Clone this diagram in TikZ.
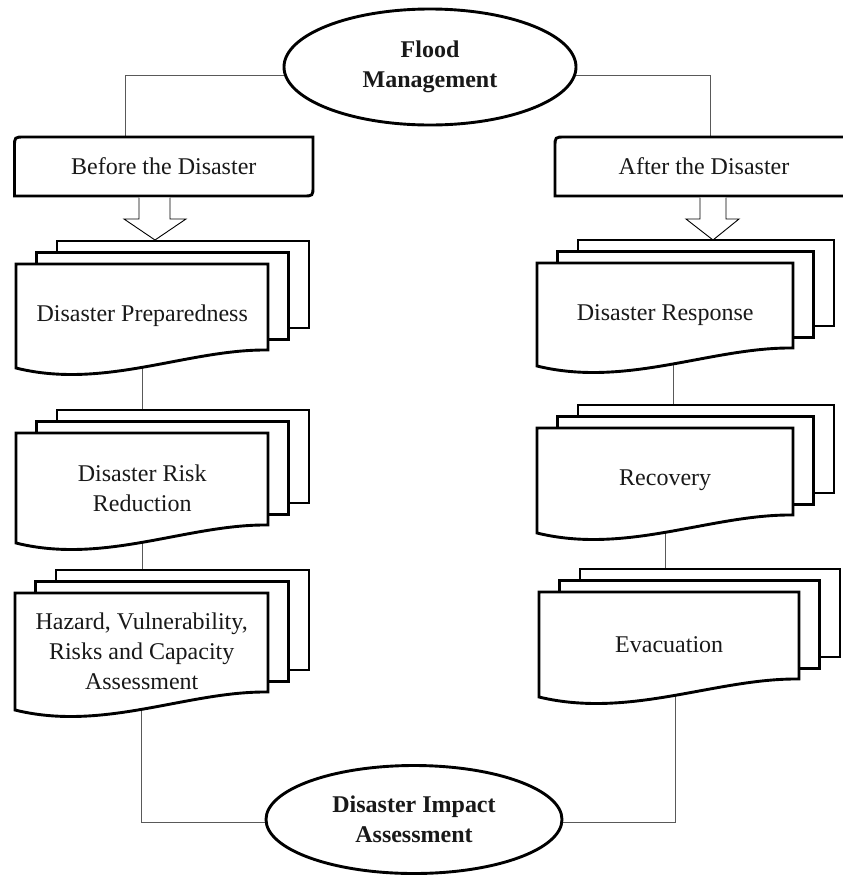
\documentclass[tikz,border=0pt]{standalone}
\usepackage{fontspec}
\setmainfont{Liberation Serif}
\usetikzlibrary{shapes.geometric,backgrounds}
\tikzset{
 sheet/.style={draw=black, fill=white, line width=2.9pt, line join=miter},
 conn/.style={draw=black!65, line width=1pt},
 lbl/.style={font=\fontsize{24}{30}\selectfont, align=center, inner sep=0pt, text=black!90},
 oval/.style={ellipse, draw=black, fill=white, line width=2.9pt, font=\bfseries\fontsize{24}{30}\selectfont, align=center, inner sep=0pt, text=black!90},
 hollow/.style={draw=black, fill=white, line width=0.9pt, line join=miter},
}
\newcommand\docstack[6]{%
 \draw[sheet] ({#2+41},{#3-23}) rectangle ({#2+41+#4},{#3-23+#5-17});
 \draw[sheet] ({#2+20.5},{#3-11.5}) rectangle ({#2+20.5+#4},{#3-11.5+#5-17});
 \draw[sheet] (#2,#3) -- (#2,{#3+#5}) .. controls ({#2+0.35*#4},{#3+#5+22}) and ({#2+0.68*#4},{#3+#5-19}) .. ({#2+#4},{#3+#5-18}) -- ({#2+#4},#3) -- cycle;
 \node[lbl, minimum width=#4pt, minimum height=#5pt, anchor=north west] (#1) at (#2,#3) {#6};
}
\begin{document}
\begin{tikzpicture}[x=1pt, y=-1pt]
\useasboundingbox (0,0) rectangle (843,876);
% top ellipse
\node[oval, minimum width=292pt, minimum height=116pt] (fm) at (430,67) {Flood\\Management};
% before / after boxes
\draw[sheet] (14.5,196) -- (14.5,147) .. controls (14.5,137) .. (24.5,137) -- (313,137) -- (313,186) .. controls (313,196) .. (303,196) -- cycle;
\node[lbl, minimum width=298.5pt, minimum height=59pt] (before) at (163.75,166.5) {Before the Disaster};
\begin{scope}
\clip (0,0) rectangle (843,876);
\draw[sheet] (555,196) -- (555,147) .. controls (555,137) .. (565,137) -- (853,137) -- (853,196) -- cycle;
\end{scope}
\node[lbl, minimum width=298pt, minimum height=59pt] (after) at (704,166.5) {After the Disaster};
% hollow arrows
\draw[hollow] (139,197.5) -- (139,219) -- (124,219) -- (155,240) -- (186,219) -- (170,219) -- (170,197.5);
\draw[hollow] (700,197.5) -- (700,219) -- (686,219) -- (713,240) -- (739,219) -- (726,219) -- (726,197.5);
% document stacks
\docstack{s1}{16}{264}{252}{104}{Disaster Preparedness}
\docstack{s2}{16}{433}{252}{110}{Disaster Risk\\Reduction}
\docstack{s3}{15}{593}{253}{117}{Hazard, Vulnerability,\\Risks and Capacity\\Assessment}
\docstack{r1}{537}{263}{256}{103}{Disaster Response}
\docstack{r2}{537}{428}{256}{105}{Recovery}
\docstack{r3}{539}{592}{260}{105}{Evacuation}
% bottom ellipse
\node[oval, minimum width=296pt, minimum height=108pt] (dia) at (414,819.5) {Disaster Impact\\Assessment};
% connectors
\begin{scope}[on background layer]
\draw[conn] ([yshift=-8pt]fm.center) -| ([xshift=-38pt]before.north);
\draw[conn] ([yshift=-8pt]fm.center) -| ([xshift=6pt]after.north);
\draw[conn] (s1.center) -- (s1.center |- s2.center);
\draw[conn] (s2.center) -- (s2.center |- s3.center);
\draw[conn] (s3.center) |- ([yshift=-3pt]dia.center);
\draw[conn] ([xshift=8pt]r1.center) -- ([xshift=8pt]r1.center |- r2.center);
\draw[conn] (r2.center) -- (r2.center |- r3.center);
\draw[conn] ([xshift=6pt]r3.center) |- ([yshift=-3pt]dia.center);
\end{scope}
\end{tikzpicture}
\end{document}
